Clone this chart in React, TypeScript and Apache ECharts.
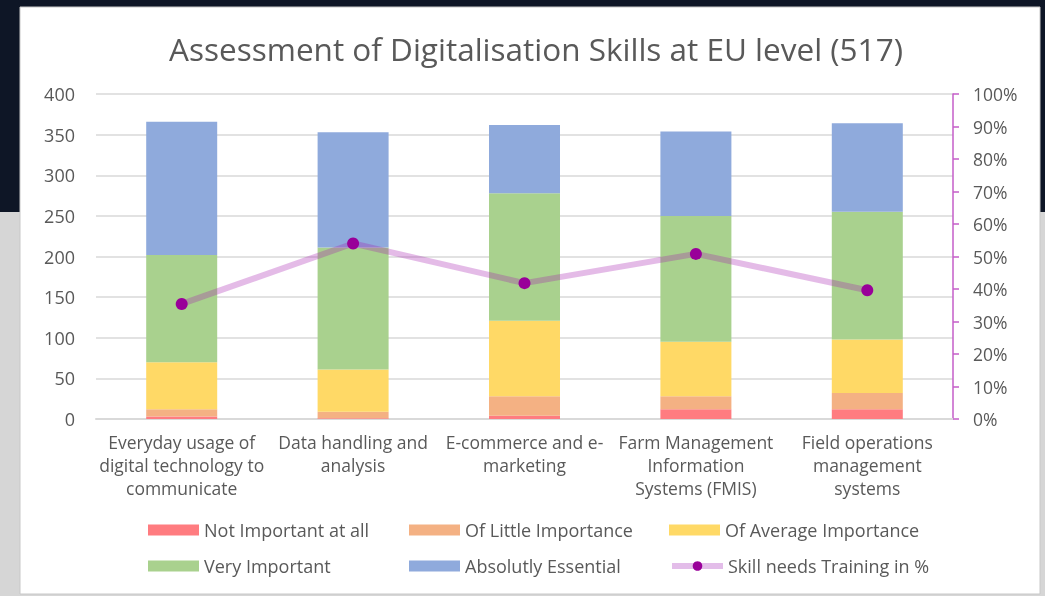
import React, { useEffect, useRef } from "react";
import * as echarts from "echarts";

const categories = [
  "Everyday usage of\ndigital technology to\ncommunicate",
  "Data handling and\nanalysis",
  "E-commerce and e-\nmarketing",
  "Farm Management\nInformation\nSystems (FMIS)",
  "Field operations\nmanagement\nsystems",
];
const notImportant = [3, 1, 4, 12, 12];
const littleImportance = [9, 8, 24, 16, 20];
const averageImportance = [58, 52, 93, 67, 66];
const veryImportant = [132, 150, 157, 155, 157];
const absolutelyEssential = [164, 142, 84, 104, 109];
const trainingPct = [35.4, 54, 41.8, 50.8, 39.6];
const leftTicks = [0, 400, 50];
const rightTicks = [0, 100, 10];

const FONT = "Open Sans";
const GRAY = "#595959";

export default function App() {
  const ref = useRef<HTMLDivElement>(null);
  useEffect(() => {
    const chart = echarts.init(ref.current!, null, { renderer: "svg" });
    const barNames = [
      "Not Important at all",
      "Of Little Importance",
      "Of Average Importance",
      "Very Important",
      "Absolutly Essential",
    ];
    const barData = [notImportant, littleImportance, averageImportance, veryImportant, absolutelyEssential];
    const colors = ["#ff7c80", "#f4b183", "#ffd966", "#a9d18e", "#8faadc"];
    const lineName = "Skill needs Training in %";
    const legendPos = [
      [148, 531], [409, 531], [669, 531],
      [148, 567], [409, 567], [669, 567],
    ];
    const allNames = [...barNames, lineName];
    const legends = allNames.map((n, i) => ({
      data: [n],
      left: legendPos[i][0],
      top: legendPos[i][1] - 10,
      itemWidth: 51,
      itemHeight: i === 5 ? 12 : 11,
      padding: 0,
      icon: i === 5 ? undefined : "rect",
      lineStyle: i === 5 ? { width: 6, color: "#e3bde9", opacity: 1 } : undefined,
      textStyle: { fontFamily: FONT, fontSize: 18, color: GRAY, padding: [0, 0, 0, 0] },
    }));
    chart.setOption({
      animation: false,
      graphic: [
        { type: "rect", z: -10, shape: { x: 0, y: 0, width: 1045, height: 212 }, style: { fill: "#0e1626" } },
        { type: "rect", z: -10, shape: { x: 0, y: 212, width: 1045, height: 384 }, style: { fill: "#d6d6d6" } },
        { type: "rect", z: -9, shape: { x: 20, y: 7, width: 1020, height: 587 }, style: { fill: "#ffffff", stroke: "#c8c8c8", lineWidth: 1 } },
      ],
      title: {
        text: "Assessment of Digitalisation Skills at EU level (517)",
        left: 531,
        textAlign: "center",
        top: 27,
        textStyle: { fontFamily: FONT, fontSize: 31.5, fontWeight: "normal", color: GRAY },
      },
      legend: legends,
      grid: { left: 96, right: 92, top: 94, bottom: 177 },
      xAxis: {
        type: "category",
        data: categories,
        axisLine: { lineStyle: { color: "#d9d9d9", width: 2 } },
        axisTick: { show: false },
        axisLabel: { fontFamily: FONT, fontSize: 17.5, color: GRAY, lineHeight: 23, margin: 11, interval: 0 },
      },
      yAxis: [
        {
          type: "value",
          min: leftTicks[0],
          max: leftTicks[1],
          interval: leftTicks[2],
          axisLine: { show: false },
          axisTick: { show: false },
          splitLine: { lineStyle: { color: "#d9d9d9", width: 1.5 } },
          axisLabel: { fontFamily: FONT, fontSize: 18, color: GRAY, margin: 21 },
        },
        {
          type: "value",
          min: rightTicks[0],
          max: rightTicks[1],
          interval: rightTicks[2],
          position: "right",
          axisLine: { show: true, lineStyle: { color: "#c45ec8", width: 1.5 } },
          axisTick: { show: true, length: 6, lineStyle: { color: "#c45ec8", width: 1.5 } },
          splitLine: { show: false },
          axisLabel: { fontFamily: FONT, fontSize: 17.5, color: GRAY, margin: 20, formatter: "{value}%" },
        },
      ],
      series: [
        ...barNames.map((n, i) => ({
          name: n,
          type: "bar",
          stack: "total",
          barWidth: 71,
          data: barData[i],
          itemStyle: { color: colors[i] },
        })),
        {
          name: lineName,
          type: "line",
          yAxisIndex: 1,
          data: trainingPct,
          symbol: "circle",
          symbolSize: 12,
          z: 5,
          lineStyle: { color: "rgba(165, 30, 176, 0.3)", width: 6 },
          itemStyle: { color: "#990099" },
        },
      ],
    });
    return () => chart.dispose();
  }, []);
  return <div ref={ref} style={{ position: "fixed", left: 0, top: 0, width: 1045, height: 596 }} />;
}
